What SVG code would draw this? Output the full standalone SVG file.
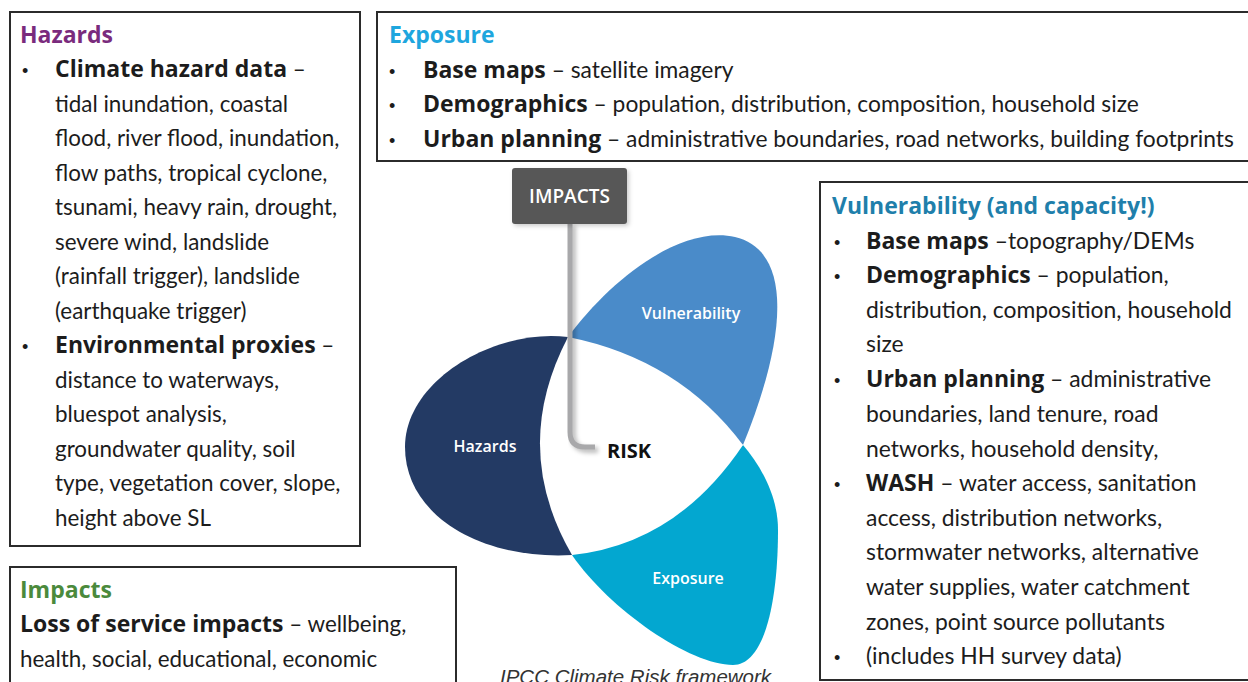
<svg xmlns="http://www.w3.org/2000/svg" width="1248" height="682" viewBox="0 0 1248 682">
<defs>
<style>
.box{fill:#fff;stroke:#2b2b2b;stroke-width:2}
.t{font-family:Lato,"Open Sans",sans-serif;font-size:22.4px;fill:#1c1c1c}
.ex{font-size:22.8px}
.vu{font-size:22.9px}
.b{font-family:"Open Sans",sans-serif;font-weight:bold;font-size:23px}
.ttl{font-family:"Open Sans",sans-serif;font-size:23px;font-weight:bold}
.bul{font-family:"Liberation Sans",sans-serif;font-size:18px;fill:#1c1c1c}
.lbl{font-family:"Open Sans",sans-serif;font-weight:600;font-size:16px;fill:#fff;text-anchor:middle}
</style>
<filter id="sh" x="-20%" y="-20%" width="140%" height="140%">
<feGaussianBlur stdDeviation="2"/>
</filter>
</defs>
<rect width="1248" height="682" fill="#fff"/>

<g id="hazards-box">
<rect class="box" x="10" y="12" width="350" height="534"/>
<text class="ttl" x="20" y="43" fill="#7a2b7d">Hazards</text>
<text class="bul" x="22" y="77">•</text>
<text class="t" x="55" y="77"><tspan class="b">Climate hazard data</tspan> –</text>
<text class="t" x="55" y="111.5">tidal inundation, coastal</text>
<text class="t" x="55" y="146">flood, river flood, inundation,</text>
<text class="t" x="55" y="180.5">flow paths, tropical cyclone,</text>
<text class="t" x="55" y="215">tsunami, heavy rain, drought,</text>
<text class="t" x="55" y="249.5">severe wind, landslide</text>
<text class="t" x="55" y="284">(rainfall trigger), landslide</text>
<text class="t" x="55" y="318.5">(earthquake trigger)</text>
<text class="bul" x="22" y="353">•</text>
<text class="t" x="55" y="353"><tspan class="b">Environmental proxies</tspan> –</text>
<text class="t" x="55" y="387.5">distance to waterways,</text>
<text class="t" x="55" y="422">bluespot analysis,</text>
<text class="t" x="55" y="456.5">groundwater quality, soil</text>
<text class="t" x="55" y="491">type, vegetation cover, slope,</text>
<text class="t" x="55" y="525.5">height above SL</text>
</g>

<g id="exposure-box">
<rect class="box" x="377" y="12" width="890" height="149"/>
<text class="ttl" x="389" y="43" fill="#1ea6de">Exposure</text>
<text class="bul" x="389" y="78">•</text>
<text class="t ex" x="423" y="78"><tspan class="b">Base maps</tspan> – satellite imagery</text>
<text class="bul" x="389" y="112">•</text>
<text class="t ex" x="423" y="112"><tspan class="b">Demographics</tspan> – population, distribution, composition, household size</text>
<text class="bul" x="389" y="147">•</text>
<text class="t ex" x="423" y="147"><tspan class="b">Urban planning</tspan> – administrative boundaries, road networks, building footprints</text>
</g>

<g id="vulnerability-box">
<rect class="box" x="820" y="182" width="440" height="498"/>
<text class="ttl" x="832" y="214" fill="#1f7fab">Vulnerability (and capacity!)</text>
<text class="bul" x="834" y="249">•</text>
<text class="t vu" x="866" y="249"><tspan class="b">Base maps</tspan> –topography/DEMs</text>
<text class="bul" x="834" y="283">•</text>
<text class="t vu" x="866" y="283"><tspan class="b">Demographics</tspan> – population,</text>
<text class="t vu" x="866" y="318">distribution, composition, household</text>
<text class="t vu" x="866" y="352">size</text>
<text class="bul" x="834" y="387">•</text>
<text class="t vu" x="866" y="387"><tspan class="b">Urban planning</tspan> – administrative</text>
<text class="t vu" x="866" y="422">boundaries, land tenure, road</text>
<text class="t vu" x="866" y="457">networks, household density,</text>
<text class="bul" x="834" y="491">•</text>
<text class="t vu" x="866" y="491"><tspan class="b">WASH</tspan> – water access, sanitation</text>
<text class="t vu" x="866" y="526">access, distribution networks,</text>
<text class="t vu" x="866" y="560">stormwater networks, alternative</text>
<text class="t vu" x="866" y="595">water supplies, water catchment</text>
<text class="t vu" x="866" y="630">zones, point source pollutants</text>
<text class="bul" x="834" y="664">•</text>
<text class="t vu" x="866" y="664">(includes HH survey data)</text>
</g>

<g id="impacts-box">
<rect class="box" x="10" y="567" width="446" height="130"/>
<text class="ttl" x="20" y="598" fill="#4b8a3c">Impacts</text>
<text class="t" x="20" y="632"><tspan class="b">Loss of service impacts</tspan> – wellbeing,</text>
<text class="t" x="20" y="667">health, social, educational, economic</text>
</g>

<g id="framework">
<g id="petal-hazards">
<path d="M568,337 C495,328 405,380 405,447 C405,515 480,560 572,555 Z" fill="#233a64"/>
</g>
<g id="petal-vulnerability">
<path d="M568,337 C610,280 680,225 735,237 C790,250 790,330 743,445 Z" fill="#4a8bc9"/>
</g>
<g id="petal-exposure">
<path d="M743,445 C760,465 778,495 778,530 C778,600 765,665 733,665 C690,665 610,610 572,555 Z" fill="#03a7d0"/>
</g>
<g id="risk">
<path d="M568,337 Q678.5,359 743,445 Q676.5,544 572,555 Q510,448 568,337 Z" fill="#fff"/>
<text x="607" y="458" font-family="'Open Sans',sans-serif" font-weight="bold" font-size="20" fill="#111">RISK</text>
</g>
<text class="lbl" x="691" y="319">Vulnerability</text>
<text class="lbl" x="485" y="452">Hazards</text>
<text class="lbl" x="688" y="584">Exposure</text>
</g>

<g id="connectors">
<path d="M571,224 V432 Q571,448 587,448 H596" fill="none" stroke="#000" stroke-opacity="0.25" stroke-width="6" filter="url(#sh)" transform="translate(2,2)"/>
<path d="M570,224 V432 Q570,447 585,447 H595" fill="none" stroke="#a8a8aa" stroke-width="5"/>
</g>

<g id="impacts-node">
<rect x="514" y="170" width="115" height="56" rx="3" fill="#000" fill-opacity="0.2" filter="url(#sh)"/>
<rect x="512" y="168" width="115" height="56" rx="3" fill="#575757"/>
<text x="569.5" y="203" font-family="'Open Sans',sans-serif" font-weight="600" font-size="19" fill="#fff" text-anchor="middle">IMPACTS</text>
</g>

<text x="500" y="684" font-family="'Liberation Sans',sans-serif" font-style="italic" font-size="20.5" fill="#333">IPCC Climate Risk framework</text>
</svg>
